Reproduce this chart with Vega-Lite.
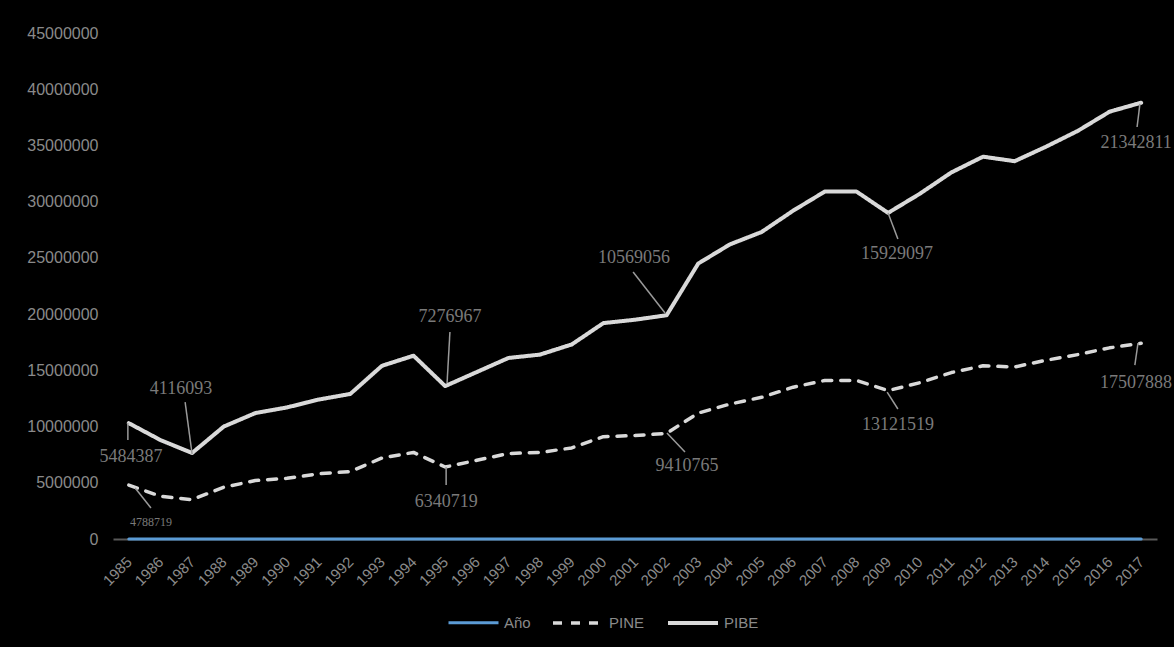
{
  "$schema": "https://vega.github.io/schema/vega-lite/v6.json",
  "autosize": {"type": "none"},
  "width": 1044,
  "height": 506,
  "padding": {"left": 113, "top": 33, "right": 17, "bottom": 108},
  "background": "#000000",
  "config": {
    "view": {"stroke": null},
    "font": "Liberation Sans",
    "axisX": {"labelOverlap": false, "labelFlush": false, "labelBound": false}
  },
  "datasets": {
    "series": [
      {"anio": 1985, "serie": "Año", "valor": 1985}, {"anio": 1986, "serie": "Año", "valor": 1986}, {"anio": 1987, "serie": "Año", "valor": 1987}, {"anio": 1988, "serie": "Año", "valor": 1988}, {"anio": 1989, "serie": "Año", "valor": 1989}, {"anio": 1990, "serie": "Año", "valor": 1990}, {"anio": 1991, "serie": "Año", "valor": 1991}, {"anio": 1992, "serie": "Año", "valor": 1992}, {"anio": 1993, "serie": "Año", "valor": 1993}, {"anio": 1994, "serie": "Año", "valor": 1994}, {"anio": 1995, "serie": "Año", "valor": 1995}, {"anio": 1996, "serie": "Año", "valor": 1996}, {"anio": 1997, "serie": "Año", "valor": 1997}, {"anio": 1998, "serie": "Año", "valor": 1998}, {"anio": 1999, "serie": "Año", "valor": 1999}, {"anio": 2000, "serie": "Año", "valor": 2000}, {"anio": 2001, "serie": "Año", "valor": 2001}, {"anio": 2002, "serie": "Año", "valor": 2002}, {"anio": 2003, "serie": "Año", "valor": 2003}, {"anio": 2004, "serie": "Año", "valor": 2004}, {"anio": 2005, "serie": "Año", "valor": 2005}, {"anio": 2006, "serie": "Año", "valor": 2006}, {"anio": 2007, "serie": "Año", "valor": 2007}, {"anio": 2008, "serie": "Año", "valor": 2008}, {"anio": 2009, "serie": "Año", "valor": 2009}, {"anio": 2010, "serie": "Año", "valor": 2010}, {"anio": 2011, "serie": "Año", "valor": 2011}, {"anio": 2012, "serie": "Año", "valor": 2012}, {"anio": 2013, "serie": "Año", "valor": 2013}, {"anio": 2014, "serie": "Año", "valor": 2014}, {"anio": 2015, "serie": "Año", "valor": 2015}, {"anio": 2016, "serie": "Año", "valor": 2016}, {"anio": 2017, "serie": "Año", "valor": 2017},
      {"anio": 1985, "serie": "PINE", "valor": 4800000}, {"anio": 1986, "serie": "PINE", "valor": 3800000}, {"anio": 1987, "serie": "PINE", "valor": 3500000}, {"anio": 1988, "serie": "PINE", "valor": 4600000}, {"anio": 1989, "serie": "PINE", "valor": 5200000}, {"anio": 1990, "serie": "PINE", "valor": 5400000}, {"anio": 1991, "serie": "PINE", "valor": 5800000}, {"anio": 1992, "serie": "PINE", "valor": 6000000}, {"anio": 1993, "serie": "PINE", "valor": 7200000}, {"anio": 1994, "serie": "PINE", "valor": 7700000}, {"anio": 1995, "serie": "PINE", "valor": 6400000}, {"anio": 1996, "serie": "PINE", "valor": 7000000}, {"anio": 1997, "serie": "PINE", "valor": 7600000}, {"anio": 1998, "serie": "PINE", "valor": 7700000}, {"anio": 1999, "serie": "PINE", "valor": 8100000}, {"anio": 2000, "serie": "PINE", "valor": 9100000}, {"anio": 2001, "serie": "PINE", "valor": 9200000}, {"anio": 2002, "serie": "PINE", "valor": 9400000}, {"anio": 2003, "serie": "PINE", "valor": 11200000}, {"anio": 2004, "serie": "PINE", "valor": 12000000}, {"anio": 2005, "serie": "PINE", "valor": 12600000}, {"anio": 2006, "serie": "PINE", "valor": 13500000}, {"anio": 2007, "serie": "PINE", "valor": 14100000}, {"anio": 2008, "serie": "PINE", "valor": 14100000}, {"anio": 2009, "serie": "PINE", "valor": 13200000}, {"anio": 2010, "serie": "PINE", "valor": 13900000}, {"anio": 2011, "serie": "PINE", "valor": 14800000}, {"anio": 2012, "serie": "PINE", "valor": 15400000}, {"anio": 2013, "serie": "PINE", "valor": 15300000}, {"anio": 2014, "serie": "PINE", "valor": 15900000}, {"anio": 2015, "serie": "PINE", "valor": 16400000}, {"anio": 2016, "serie": "PINE", "valor": 17000000}, {"anio": 2017, "serie": "PINE", "valor": 17400000},
      {"anio": 1985, "serie": "PIBE", "valor": 10300000}, {"anio": 1986, "serie": "PIBE", "valor": 8800000}, {"anio": 1987, "serie": "PIBE", "valor": 7650000}, {"anio": 1988, "serie": "PIBE", "valor": 10000000}, {"anio": 1989, "serie": "PIBE", "valor": 11200000}, {"anio": 1990, "serie": "PIBE", "valor": 11700000}, {"anio": 1991, "serie": "PIBE", "valor": 12400000}, {"anio": 1992, "serie": "PIBE", "valor": 12900000}, {"anio": 1993, "serie": "PIBE", "valor": 15400000}, {"anio": 1994, "serie": "PIBE", "valor": 16300000}, {"anio": 1995, "serie": "PIBE", "valor": 13600000}, {"anio": 1996, "serie": "PIBE", "valor": 14850000}, {"anio": 1997, "serie": "PIBE", "valor": 16100000}, {"anio": 1998, "serie": "PIBE", "valor": 16400000}, {"anio": 1999, "serie": "PIBE", "valor": 17300000}, {"anio": 2000, "serie": "PIBE", "valor": 19200000}, {"anio": 2001, "serie": "PIBE", "valor": 19500000}, {"anio": 2002, "serie": "PIBE", "valor": 19900000}, {"anio": 2003, "serie": "PIBE", "valor": 24500000}, {"anio": 2004, "serie": "PIBE", "valor": 26200000}, {"anio": 2005, "serie": "PIBE", "valor": 27300000}, {"anio": 2006, "serie": "PIBE", "valor": 29200000}, {"anio": 2007, "serie": "PIBE", "valor": 30900000}, {"anio": 2008, "serie": "PIBE", "valor": 30900000}, {"anio": 2009, "serie": "PIBE", "valor": 29000000}, {"anio": 2010, "serie": "PIBE", "valor": 30700000}, {"anio": 2011, "serie": "PIBE", "valor": 32600000}, {"anio": 2012, "serie": "PIBE", "valor": 34000000}, {"anio": 2013, "serie": "PIBE", "valor": 33600000}, {"anio": 2014, "serie": "PIBE", "valor": 34900000}, {"anio": 2015, "serie": "PIBE", "valor": 36300000}, {"anio": 2016, "serie": "PIBE", "valor": 38000000}, {"anio": 2017, "serie": "PIBE", "valor": 38800000}
    ],
    "leaders": [
      {"anio": 1984.97, "valor": 10320000, "anio2": 1984.97, "valor2": 8800000},
      {"anio": 1987.0, "valor": 7560000, "anio2": 1986.78, "valor2": 12180000},
      {"anio": 1985.2, "valor": 4540000, "anio2": 1985.7, "valor2": 2760000},
      {"anio": 1995.06, "valor": 13870000, "anio2": 1995.15, "valor2": 18410000},
      {"anio": 1995.03, "valor": 6400000, "anio2": 1995.03, "valor2": 4800000},
      {"anio": 2000.94, "valor": 23750000, "anio2": 2001.95, "valor2": 20100000},
      {"anio": 2002.01, "valor": 9430000, "anio2": 2002.58, "valor2": 7740000},
      {"anio": 2009.0, "valor": 28990000, "anio2": 2009.31, "valor2": 26680000},
      {"anio": 2008.97, "valor": 13070000, "anio2": 2009.31, "valor2": 11560000},
      {"anio": 2016.96, "valor": 38690000, "anio2": 2016.87, "valor2": 36640000},
      {"anio": 2016.9, "valor": 17430000, "anio2": 2016.8, "valor2": 15470000}
    ],
    "labels": [
      {"anio": 1985.07, "valor": 7290000, "texto": "5484387"},
      {"anio": 1986.65, "valor": 13340000, "texto": "4116093"},
      {"anio": 1995.15, "valor": 19740000, "texto": "7276967"},
      {"anio": 1995.03, "valor": 3290000, "texto": "6340719"},
      {"anio": 2000.97, "valor": 24990000, "texto": "10569056"},
      {"anio": 2002.64, "valor": 6490000, "texto": "9410765"},
      {"anio": 2009.28, "valor": 25350000, "texto": "15929097"},
      {"anio": 2009.31, "valor": 10140000, "texto": "13121519"},
      {"anio": 2016.84, "valor": 35220000, "texto": "21342811"},
      {"anio": 2016.84, "valor": 13870000, "texto": "17507888"}
    ],
    "smalllabels": [
      {"anio": 1985.7, "valor": 1510000, "texto": "4788719"}
    ]
  },
  "encoding": {
    "x": {
      "field": "anio", "type": "quantitative",
      "scale": {"domain": [1984.5, 2017.5], "nice": false, "zero": false},
      "axis": {
        "title": null,
        "values": [1985,1986,1987,1988,1989,1990,1991,1992,1993,1994,1995,1996,1997,1998,1999,2000,2001,2002,2003,2004,2005,2006,2007,2008,2009,2010,2011,2012,2013,2014,2015,2016,2017],
        "format": "d",
        "labelAngle": -45,
        "labelAlign": "right",
        "labelBaseline": "middle",
        "labelPadding": 20,
        "labelFontSize": 15,
        "labelColor": "#8a8a8a",
        "labelOverlap": false,
        "labelFlush": false,
        "labelBound": false,
        "ticks": false,
        "grid": false,
        "domainColor": "#595959",
        "domainWidth": 2
      }
    },
    "y": {
      "field": "valor", "type": "quantitative",
      "scale": {"domain": [0, 45000000], "nice": false},
      "axis": {
        "title": null,
        "values": [0, 5000000, 10000000, 15000000, 20000000, 25000000, 30000000, 35000000, 40000000, 45000000],
        "format": "d",
        "domain": false,
        "ticks": false,
        "grid": false,
        "labelPadding": 15,
        "labelFontSize": 16,
        "labelColor": "#8a8a8a"
      }
    }
  },
  "layer": [
    {
      "data": {"name": "series"},
      "mark": {"type": "line", "strokeCap": "round", "strokeJoin": "round", "clip": false},
      "encoding": {
        "color": {
          "field": "serie", "type": "nominal",
          "scale": {"domain": ["Año", "PINE", "PIBE"], "range": ["#5B9BD5", "#D9D9D9", "#D9D9D9"]},
          "legend": {
            "title": null,
            "orient": "none",
            "legendX": 334,
            "legendY": 563,
            "direction": "horizontal",
            "symbolType": "stroke",
            "symbolSize": 2500,
            "symbolStrokeWidth": 3.5,
            "labelFontSize": 15,
            "labelColor": "#8a8a8a",
            "labelOffset": 4,
            "columnPadding": 15,
            "padding": 0
          }
        },
        "strokeDash": {
          "field": "serie", "type": "nominal",
          "scale": {"domain": ["Año", "PINE", "PIBE"], "range": [[1, 0], [9, 9], [1, 0]]},
          "legend": null
        },
        "strokeWidth": {
          "field": "serie", "type": "nominal",
          "scale": {"domain": ["Año", "PINE", "PIBE"], "range": [3, 4, 3]},
          "legend": null
        }
      }
    },
    {
      "data": {"name": "leaders"},
      "mark": {"type": "rule", "color": "#9a9a9a", "strokeWidth": 1.5},
      "encoding": {
        "x2": {"field": "anio2"},
        "y2": {"field": "valor2"}
      }
    },
    {
      "data": {"name": "labels"},
      "mark": {"type": "text", "font": "Liberation Serif", "fontSize": 18, "color": "#7a7a7a", "align": "center", "baseline": "middle", "clip": false},
      "encoding": {
        "text": {"field": "texto"}
      }
    },
    {
      "data": {"name": "smalllabels"},
      "mark": {"type": "text", "font": "Liberation Serif", "fontSize": 12, "color": "#7a7a7a", "align": "center", "baseline": "middle"},
      "encoding": {
        "text": {"field": "texto"}
      }
    }
  ]
}
